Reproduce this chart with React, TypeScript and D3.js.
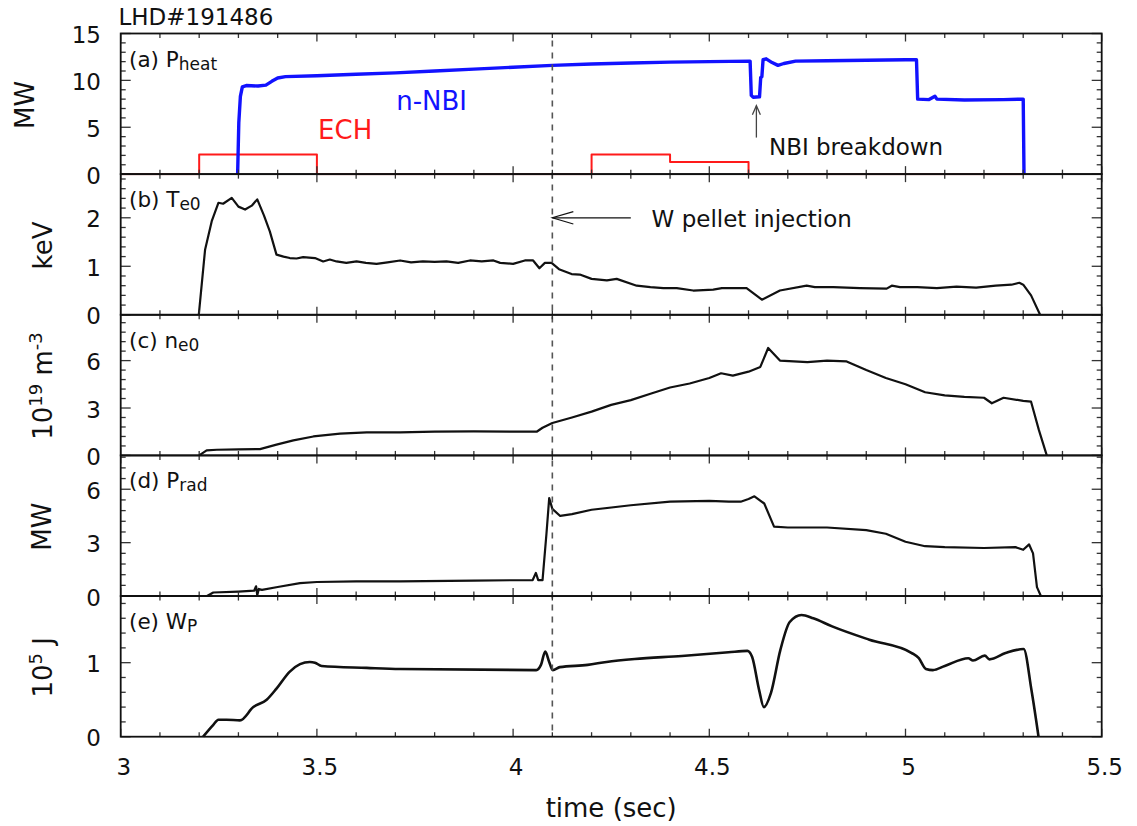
import React from "react";
import * as d3 from "d3";

type Pt = [number, number];

// ---- shot data -------------------------------------------------------------
const shotLabel = "LHD#191486";
const xTickValues = [3, 3.5, 4, 4.5, 5, 5.5];
const pelletTime = 4.1;
const nbiBreakdownTime = 4.62;

// (a) heating power, MW
const nbiPower: Pt[] = [
  [3.298, 0], [3.301, 5.5], [3.305, 8.3], [3.31, 9.3], [3.32, 9.45],
  [3.35, 9.4], [3.37, 9.5], [3.385, 9.9], [3.4, 10.25], [3.42, 10.4], [3.5, 10.5],
  [3.6, 10.65], [3.7, 10.8], [3.8, 11.0], [3.9, 11.2], [4.0, 11.4], [4.1, 11.6],
  [4.2, 11.75], [4.3, 11.85], [4.4, 11.95], [4.5, 12.0], [4.604, 12.05],
  [4.607, 8.4], [4.612, 8.2], [4.628, 8.25], [4.631, 10.3], [4.634, 10.4],
  [4.637, 12.2], [4.645, 12.3], [4.66, 11.9], [4.675, 11.6], [4.69, 11.8],
  [4.72, 12.05], [4.8, 12.1], [4.9, 12.15], [5.0, 12.2], [5.028, 12.2],
  [5.031, 8.0], [5.06, 7.95], [5.075, 8.3], [5.08, 8.0], [5.15, 7.9],
  [5.25, 7.95], [5.3, 8.0], [5.302, 0],
];
const echPower: Pt[] = [
  [3.0, 0], [3.2, 0], [3.2, 2.1], [3.5, 2.1], [3.5, 0], [4.2, 0], [4.2, 2.1],
  [4.4, 2.1], [4.4, 1.3], [4.6, 1.3], [4.6, 0], [5.3, 0],
];

// (b) central electron temperature, keV
const te0: Pt[] = [
  [3.199, 0], [3.215, 1.34], [3.232, 1.93], [3.249, 2.31], [3.261, 2.29],
  [3.283, 2.41], [3.3, 2.23], [3.317, 2.17], [3.334, 2.25], [3.348, 2.38],
  [3.365, 2.05], [3.38, 1.72], [3.397, 1.24], [3.415, 1.2], [3.431, 1.17],
  [3.448, 1.16], [3.465, 1.19], [3.48, 1.18], [3.495, 1.17], [3.516, 1.1],
  [3.533, 1.14], [3.55, 1.1], [3.575, 1.07], [3.601, 1.1], [3.625, 1.07],
  [3.652, 1.05], [3.68, 1.08], [3.712, 1.12], [3.74, 1.08], [3.77, 1.1],
  [3.8, 1.09], [3.83, 1.1], [3.86, 1.07], [3.89, 1.12], [3.92, 1.1],
  [3.95, 1.12], [3.967, 1.07], [4.0, 1.05], [4.03, 1.12], [4.051, 1.12],
  [4.067, 0.96], [4.081, 1.07], [4.098, 1.07], [4.117, 0.94], [4.149, 0.84],
  [4.17, 0.83], [4.2, 0.74], [4.239, 0.71], [4.264, 0.74], [4.315, 0.6],
  [4.35, 0.57], [4.383, 0.55], [4.417, 0.55], [4.459, 0.5], [4.51, 0.52],
  [4.532, 0.55], [4.595, 0.55], [4.634, 0.31], [4.68, 0.5], [4.748, 0.6],
  [4.769, 0.57], [4.816, 0.57], [4.884, 0.55], [4.952, 0.54], [4.965, 0.6],
  [4.986, 0.57], [5.03, 0.57], [5.08, 0.55], [5.13, 0.58], [5.18, 0.56],
  [5.23, 0.6], [5.27, 0.62], [5.29, 0.66], [5.3, 0.62], [5.32, 0.4], [5.343, 0],
];

// (c) central electron density, 10^19 m^-3
const ne0: Pt[] = [
  [3.2, 0], [3.219, 0.32], [3.245, 0.36], [3.3, 0.38], [3.355, 0.4],
  [3.397, 0.68], [3.44, 0.95], [3.491, 1.2], [3.559, 1.38], [3.627, 1.46],
  [3.712, 1.46], [3.8, 1.5], [3.9, 1.52], [4.0, 1.5], [4.06, 1.5],
  [4.075, 1.75], [4.1, 2.05], [4.15, 2.4], [4.2, 2.77], [4.25, 3.2],
  [4.3, 3.5], [4.35, 3.9], [4.4, 4.3], [4.45, 4.55], [4.5, 4.9], [4.53, 5.2],
  [4.56, 5.05], [4.6, 5.3], [4.63, 5.6], [4.65, 6.8], [4.68, 6.0],
  [4.75, 5.9], [4.8, 6.0], [4.85, 5.95], [4.9, 5.4], [4.95, 4.9], [5.0, 4.5],
  [5.05, 4.0], [5.1, 3.8], [5.15, 3.7], [5.2, 3.65], [5.22, 3.3],
  [5.25, 3.65], [5.3, 3.45], [5.32, 3.4], [5.34, 1.6], [5.36, 0],
];

// (d) radiated power, MW
const prad: Pt[] = [
  [3.0, 0], [3.22, 0], [3.236, 0.2], [3.3, 0.25], [3.34, 0.3], [3.345, 0.55],
  [3.348, 0.05], [3.352, 0.4], [3.36, 0.35], [3.4, 0.51], [3.457, 0.73],
  [3.5, 0.79], [3.6, 0.82], [3.712, 0.83], [3.9, 0.87], [4.05, 0.9],
  [4.058, 1.3], [4.064, 0.9], [4.075, 0.9], [4.085, 3.5], [4.092, 5.5],
  [4.1, 4.9], [4.12, 4.5], [4.15, 4.6], [4.2, 4.85], [4.3, 5.1], [4.4, 5.3],
  [4.5, 5.35], [4.55, 5.3], [4.58, 5.3], [4.6, 5.45], [4.615, 5.6],
  [4.64, 5.2], [4.665, 3.9], [4.7, 3.85], [4.8, 3.85], [4.9, 3.7],
  [4.95, 3.5], [5.0, 3.05], [5.05, 2.8], [5.1, 2.75], [5.2, 2.7],
  [5.28, 2.75], [5.3, 2.6], [5.315, 2.9], [5.325, 2.4], [5.335, 0.5],
  [5.345, 0], [5.5, 0],
];

// (e) plasma stored energy, 10^5 J
const wp: Pt[] = [
  [3.21, 0], [3.236, 0.16], [3.249, 0.23], [3.27, 0.23], [3.304, 0.22],
  [3.338, 0.4], [3.372, 0.5], [3.397, 0.65], [3.431, 0.88], [3.457, 0.98],
  [3.482, 1.01], [3.495, 1.0], [3.512, 0.955], [3.627, 0.93], [3.712, 0.915],
  [4.059, 0.9], [4.071, 0.97], [4.082, 1.15], [4.092, 1.01], [4.101, 0.9],
  [4.119, 0.94], [4.19, 0.97], [4.238, 1.01], [4.31, 1.05], [4.43, 1.09],
  [4.549, 1.14], [4.597, 1.16], [4.609, 1.08], [4.627, 0.63], [4.639, 0.4],
  [4.657, 0.59], [4.681, 1.17], [4.705, 1.55], [4.735, 1.645], [4.765, 1.6],
  [4.813, 1.49], [4.908, 1.31], [5.016, 1.13], [5.034, 1.06], [5.052, 0.915],
  [5.07, 0.9], [5.1, 0.955], [5.16, 1.06], [5.172, 1.03], [5.202, 1.095],
  [5.214, 1.045], [5.255, 1.13], [5.301, 1.185], [5.321, 0.63], [5.339, 0],
];

// y tick labels per panel
const yTicksA = [0, 5, 10, 15];
const yTicksB = [0, 1, 2];
const yTicksC = [0, 3, 6];
const yTicksD = [0, 3, 6];
const yTicksE = [0, 1];

// ---- layout -----------------------------------------------------------------
const W = 1137;
const H = 826;
const plotLeft = 120.7;
const plotRight = 1101.7;
const plotTop = 33.5;
const plotBottom = 736.7;
const FONT = "DejaVu Sans, Verdana, sans-serif";

type Panel = {
  key: string;
  tag: string;
  sym: string;
  sub: string;
  yMax: number;
  major: number;
  minor: number;
  ticks: number[];
  unitX: number;
};

const panels: Panel[] = [
  { key: "a", tag: "(a) ", sym: "P", sub: "heat", yMax: 15, major: 5, minor: 1, ticks: yTicksA, unitX: 33.5 },
  { key: "b", tag: "(b) ", sym: "T", sub: "e0", yMax: 2.9, major: 1, minor: 0.2, ticks: yTicksB, unitX: 51.5 },
  { key: "c", tag: "(c) ", sym: "n", sub: "e0", yMax: 8.9, major: 3, minor: 0.6, ticks: yTicksC, unitX: 51.5 },
  { key: "d", tag: "(d) ", sym: "P", sub: "rad", yMax: 7.9, major: 3, minor: 0.6, ticks: yTicksD, unitX: 50.5 },
  { key: "e", tag: "(e) ", sym: "W", sub: "P", yMax: 1.9, major: 1, minor: 0.2, ticks: yTicksE, unitX: 51.5 },
];

const panelH = (plotBottom - plotTop) / panels.length;

const x = d3.scaleLinear().domain([3, 5.5]).range([plotLeft, plotRight]);

function yScale(i: number) {
  const top = plotTop + i * panelH;
  return d3.scaleLinear().domain([0, panels[i].yMax]).range([top + panelH, top]);
}

function steps(lo: number, hi: number, step: number): number[] {
  const n = Math.floor((hi - lo) / step + 1e-6);
  return d3.range(n + 1).map((k) => +(lo + k * step).toFixed(6));
}

function UnitLabel({ i }: { i: number }) {
  const p = panels[i];
  const cy = plotTop + i * panelH + panelH / 2 + 1;
  const common = {
    transform: `translate(${p.unitX},${cy}) rotate(-90)`,
    textAnchor: "middle" as const,
    fontFamily: FONT,
    fontSize: 26,
    fill: "#111",
  };
  if (p.key === "c") {
    return (
      <text {...common}>
        10<tspan fontSize={18} dy={-10}>19</tspan>
        <tspan dy={10}> m</tspan>
        <tspan fontSize={18} dy={-10}>-3</tspan>
      </text>
    );
  }
  if (p.key === "e") {
    return (
      <text {...common}>
        10<tspan fontSize={18} dy={-10}>5</tspan>
        <tspan dy={10}> J</tspan>
      </text>
    );
  }
  const units: Record<string, string> = { a: "MW", b: "keV", d: "MW" };
  return <text {...common}>{units[p.key]}</text>;
}

function PanelFrame({ i }: { i: number }) {
  const p = panels[i];
  const y = yScale(i);
  const top = plotTop + i * panelH;
  const bottom = top + panelH;
  const xMinor = steps(3, 5.5, 0.1);
  const yMinor = steps(0, p.yMax, p.minor);
  const tickColor = "#333";
  return (
    <g>
      {xMinor.map((t) => {
        const major = Math.abs(t * 2 - Math.round(t * 2)) < 1e-6;
        const len = major ? 8 : 4.5;
        return (
          <g key={`xt${t}`} stroke={tickColor} strokeWidth={1.3}>
            <line x1={x(t)} x2={x(t)} y1={bottom} y2={bottom - len} />
            <line x1={x(t)} x2={x(t)} y1={top} y2={top + len} />
          </g>
        );
      })}
      {yMinor.map((v) => {
        const major = Math.abs(v / p.major - Math.round(v / p.major)) < 1e-6;
        const len = major ? 10 : 5;
        return (
          <g key={`yt${v}`} stroke={tickColor} strokeWidth={1.3}>
            <line x1={plotLeft} x2={plotLeft + len} y1={y(v)} y2={y(v)} />
            <line x1={plotRight} x2={plotRight - len} y1={y(v)} y2={y(v)} />
          </g>
        );
      })}
      <rect
        x={plotLeft}
        y={top}
        width={plotRight - plotLeft}
        height={panelH}
        fill="none"
        stroke="#111"
        strokeWidth={1.8}
      />
      {p.ticks.map((v) => (
        <text
          key={`yl${v}`}
          x={101}
          y={y(v) + 9.6}
          textAnchor="end"
          fontFamily={FONT}
          fontSize={23}
          fill="#111"
        >
          {v}
        </text>
      ))}
      <text x={129} y={top + 33} fontFamily={FONT} fontSize={21.5} fill="#111">
        {p.tag}
        {p.sym}
        <tspan fontSize={17} dy={3}>
          {p.sub}
        </tspan>
      </text>
      <UnitLabel i={i} />
    </g>
  );
}

export default function App() {
  const yA = yScale(0);
  const yB = yScale(1);
  const yC = yScale(2);
  const yD = yScale(3);
  const yE = yScale(4);

  const lineFor = (ys: d3.ScaleLinear<number, number>, curve = d3.curveLinear) =>
    d3
      .line<Pt>()
      .x((d) => x(d[0]))
      .y((d) => ys(d[1]))
      .curve(curve);

  const clipFor = (i: number) => `url(#clip-${panels[i].key})`;

  const arrowTipX = x(pelletTime);
  const arrowY = yB(2.0);
  const nbX = x(nbiBreakdownTime);

  return (
    <svg
      width={W}
      height={H}
      viewBox={`0 0 ${W} ${H}`}
      style={{ position: "absolute", left: 0, top: 0, background: "#fff" }}
    >
      <defs>
        {panels.map((p, i) => (
          <clipPath id={`clip-${p.key}`} key={p.key}>
            <rect
              x={plotLeft}
              y={plotTop + i * panelH - 1}
              width={plotRight - plotLeft}
              height={panelH + 2}
            />
          </clipPath>
        ))}
      </defs>
      <rect width={W} height={H} fill="#fff" />

      {/* traces */}
      <g fill="none" strokeLinejoin="round">
        <path d={lineFor(yA)(echPower) ?? ""} stroke="#ff1a1a" strokeWidth={2} clipPath={clipFor(0)} />
        <path d={lineFor(yA)(nbiPower) ?? ""} stroke="#1212ff" strokeWidth={3.4} clipPath={clipFor(0)} />
        <path d={lineFor(yB)(te0) ?? ""} stroke="#111" strokeWidth={2.2} clipPath={clipFor(1)} />
        <path d={lineFor(yC)(ne0) ?? ""} stroke="#111" strokeWidth={2.2} clipPath={clipFor(2)} />
        <path d={lineFor(yD)(prad) ?? ""} stroke="#111" strokeWidth={2.2} clipPath={clipFor(3)} />
        <path
          d={lineFor(yE, d3.curveMonotoneX)(wp) ?? ""}
          stroke="#111"
          strokeWidth={2.6}
          clipPath={clipFor(4)}
        />
      </g>

      {/* pellet injection time */}
      <line
        x1={x(pelletTime)}
        x2={x(pelletTime)}
        y1={plotTop + 7}
        y2={plotBottom}
        stroke="#555"
        strokeWidth={1.6}
        strokeDasharray="6,6"
      />

      {panels.map((p, i) => (
        <PanelFrame key={p.key} i={i} />
      ))}

      {/* annotations */}
      <text x={x(3.702)} y={yA(6.84)} fontFamily={FONT} fontSize={26} fill="#1212ff">
        n-NBI
      </text>
      <text x={x(3.503)} y={yA(3.74)} fontFamily={FONT} fontSize={26} fill="#ff1a1a">
        ECH
      </text>
      <g stroke="#444" strokeWidth={1.3} fill="none">
        <line x1={nbX} x2={nbX} y1={yA(3.9)} y2={yA(7.3)} />
        <polyline points={`${nbX - 4},${yA(7.3) + 9} ${nbX},${yA(7.3)} ${nbX + 4},${yA(7.3) + 9}`} />
      </g>
      <text x={x(4.652)} y={yA(2.03)} fontFamily={FONT} fontSize={23} fill="#111">
        NBI breakdown
      </text>
      <g stroke="#111" strokeWidth={1.2} fill="none">
        <line x1={arrowTipX} x2={x(4.3)} y1={arrowY} y2={arrowY} />
        <polyline
          points={`${arrowTipX + 21},${arrowY - 6.2} ${arrowTipX},${arrowY} ${arrowTipX + 21},${arrowY + 6.2}`}
        />
      </g>
      <text x={x(4.353)} y={yB(1.82)} fontFamily={FONT} fontSize={23} fill="#111">
        W pellet injection
      </text>

      {/* x axis labels */}
      {xTickValues.map((t) => (
        <text
          key={`xl${t}`}
          x={x(t) + 3}
          y={775}
          textAnchor="middle"
          fontFamily={FONT}
          fontSize={23}
          fill="#111"
        >
          {t}
        </text>
      ))}
      <text
        x={(plotLeft + plotRight) / 2}
        y={817}
        textAnchor="middle"
        fontFamily={FONT}
        fontSize={26}
        fill="#111"
      >
        time (sec)
      </text>
      <text x={118.5} y={25} fontFamily={FONT} fontSize={23} fill="#111">
        {shotLabel}
      </text>
    </svg>
  );
}
